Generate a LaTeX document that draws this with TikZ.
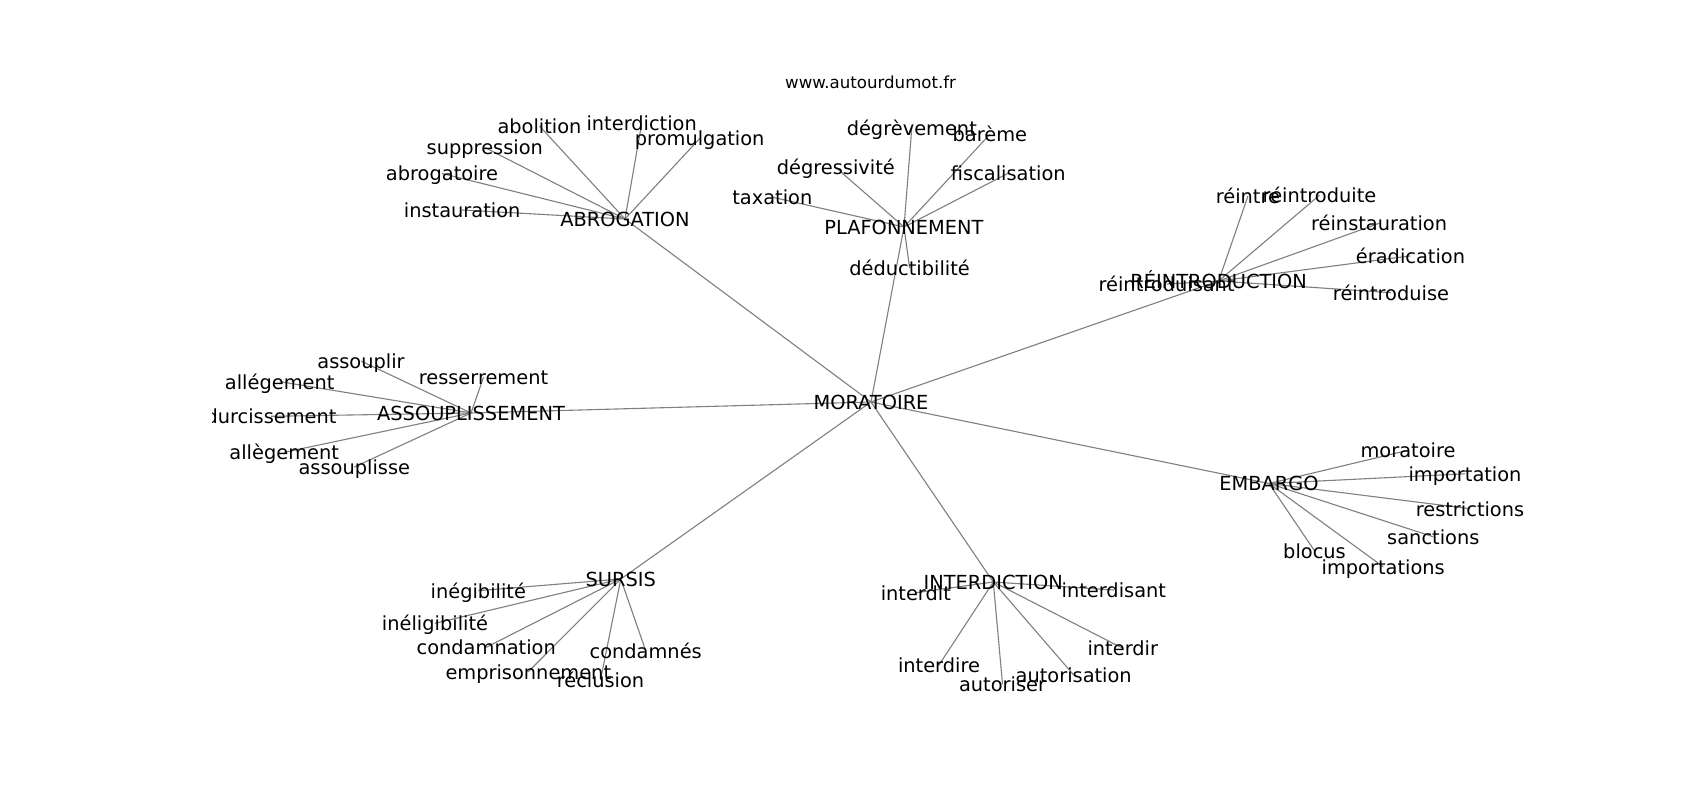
\documentclass[tikz,border=0pt]{standalone}
\usepackage{fontspec}
\setmainfont{DejaVu Sans}
\pgfdeclarelayer{bg}
\pgfsetlayers{bg,main}
\begin{document}
\begin{tikzpicture}[x=0.01in,y=-0.01in,
  lbl/.style={font=\fontsize{14}{16}\selectfont,inner sep=0pt,text height=14pt,text depth=3.2pt,text=black},
  ttl/.style={font=\fontsize{12}{14}\selectfont,inner sep=0pt,text=black},
  edge/.style={draw=gray,line width=0.8pt}]
\useasboundingbox (0,0) rectangle (1700,800);
\node[ttl] (title) at (870.6,82.4) {www.autourdumot.fr};
\begin{scope}
\clip (212.5,96) rectangle (1530,712);
% hubs
\node[lbl] (mor) at (871,402) {MORATOIRE};
\node[lbl] (abr) at (625,219) {ABROGATION};
\node[lbl] (pla) at (904,227) {PLAFONNEMENT};
\node[lbl] (rei) at (1218.6,281) {RÉINTRODUCTION};
\node[lbl] (ass) at (471,413) {ASSOUPLISSEMENT};
\node[lbl] (emb) at (1269,483.5) {EMBARGO};
\node[lbl] (sur) at (620.8,579) {SURSIS};
\node[lbl] (int) at (993.3,582) {INTERDICTION};
% abrogation
\node[lbl] (a1) at (539.5,126) {abolition};
\node[lbl] (a2) at (641.7,123.5) {interdiction};
\node[lbl] (a3) at (699.7,138.5) {promulgation};
\node[lbl] (a4) at (484.8,147.5) {suppression};
\node[lbl] (a5) at (442,173.5) {abrogatoire};
\node[lbl] (a6) at (462.2,210) {instauration};
% plafonnement
\node[lbl] (p1) at (911.8,127.6) {dégrèvement};
\node[lbl] (p2) at (989.8,134.4) {barème};
\node[lbl] (p3) at (835.8,167.5) {dégressivité};
\node[lbl] (p4) at (1008.3,173.2) {fiscalisation};
\node[lbl] (p5) at (772.3,197.2) {taxation};
\node[lbl] (p6) at (909.6,268) {déductibilité};
% reintroduction
\node[lbl] (r1) at (1247.9,196.2) {réintre};
\node[lbl] (r2) at (1319.5,195.2) {réintroduite};
\node[lbl] (r3) at (1379.1,223.3) {réinstauration};
\node[lbl] (r4) at (1410.5,255.9) {éradication};
\node[lbl] (r5) at (1166.6,284.1) {réintroduisant};
\node[lbl] (r6) at (1391,292.7) {réintroduise};
% assouplissement
\node[lbl] (s1) at (361,361) {assouplir};
\node[lbl] (s2) at (483.5,377.3) {resserrement};
\node[lbl] (s3) at (279.7,381.6) {allégement};
\node[lbl] (s4) at (271,416.3) {durcissement};
\node[lbl] (s5) at (284.2,452.3) {allègement};
\node[lbl] (s6) at (354.3,467) {assouplisse};
% embargo
\node[lbl] (e1) at (1408,450.3) {moratoire};
\node[lbl] (e2) at (1465,473.8) {importation};
\node[lbl] (e3) at (1470,508.7) {restrictions};
\node[lbl] (e4) at (1433.3,536.8) {sanctions};
\node[lbl] (e5) at (1314.5,550.8) {blocus};
\node[lbl] (e6) at (1383.2,566.8) {importations};
% sursis
\node[lbl] (u1) at (478.3,590.7) {inégibilité};
\node[lbl] (u2) at (435,623.3) {inéligibilité};
\node[lbl] (u3) at (486.2,647.3) {condamnation};
\node[lbl] (u4) at (645.7,650.7) {condamnés};
\node[lbl] (u5) at (528.3,671.7) {emprisonnement};
\node[lbl] (u6) at (600.5,680) {réclusion};
% interdiction
\node[lbl] (i1) at (915.8,592.7) {interdit};
\node[lbl] (i2) at (1113.8,590) {interdisant};
\node[lbl] (i3) at (1122.8,648.3) {interdir};
\node[lbl] (i4) at (939,665) {interdire};
\node[lbl] (i5) at (1073.7,675) {autorisation};
\node[lbl] (i6) at (1002.5,684) {autoriser};
\end{scope}
\begin{pgfonlayer}{bg}
\fill[white] (0,0) rectangle (1700,800);
\foreach \h in {abr,pla,rei,ass,emb,sur,int}
  \draw[edge] (mor.center) -- (\h.center);
\foreach \n in {1,...,6} {
  \draw[edge] (abr.center) -- (a\n.center);
  \draw[edge] (pla.center) -- (p\n.center);
  \draw[edge] (rei.center) -- (r\n.center);
  \draw[edge] (ass.center) -- (s\n.center);
  \draw[edge] (emb.center) -- (e\n.center);
  \draw[edge] (sur.center) -- (u\n.center);
  \draw[edge] (int.center) -- (i\n.center);
}
\end{pgfonlayer}
\end{tikzpicture}
\end{document}
